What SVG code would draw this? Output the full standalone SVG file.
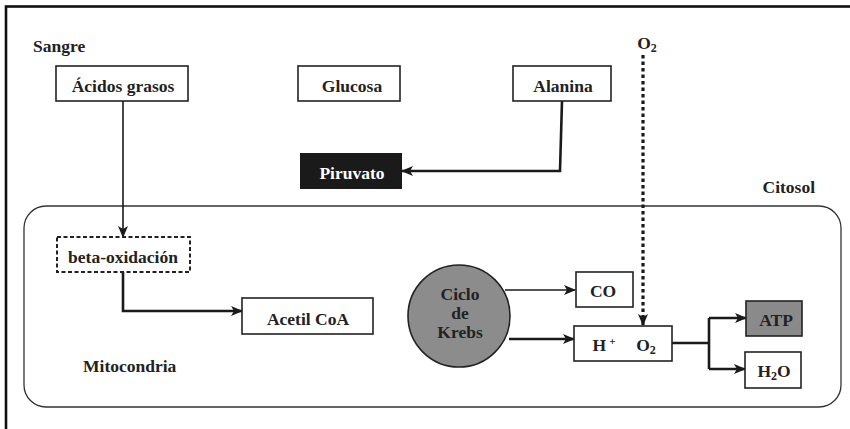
<svg xmlns="http://www.w3.org/2000/svg" width="850" height="429" viewBox="0 0 850 429">
  <defs>
    <marker id="arrow" viewBox="0 0 12 10" refX="11" refY="5" markerWidth="12" markerHeight="10" markerUnits="userSpaceOnUse" orient="auto">
      <path d="M0,0 L12,5 L0,10 L3,5 Z" fill="#1a1a1a"/>
    </marker>
  </defs>
  <style>
    text { font-family: "Liberation Serif", "Times New Roman", serif; font-weight: bold; fill: #222; }
    .lbl { font-size: 17.5px; }
    .node { font-size: 17.5px; text-anchor: middle; }
    .box { fill: #fff; stroke: #222; stroke-width: 1.6; }
    .link { fill: none; stroke: #1a1a1a; stroke-width: 1.6; }
    .thick { stroke-width: 2.6; }
    .dotted { stroke-width: 3.2; stroke-dasharray: 3.5 3; }
  </style>

  <rect width="850" height="429" fill="#fff"/>
  <!-- outer frame (runs past the canvas on right and bottom) -->
  <rect x="6" y="6.5" width="900" height="480" fill="none" stroke="#111" stroke-width="2.6"/>

  <!-- mitochondrion compartment -->
  <rect x="24" y="206" width="817" height="201" rx="22" ry="22" fill="none" stroke="#333" stroke-width="1.3"/>

  <!-- region labels -->
  <text class="lbl" x="33" y="52">Sangre</text>
  <text class="lbl" x="815" y="193" text-anchor="end">Citosol</text>
  <text class="lbl" x="83" y="372">Mitocondria</text>

  <!-- connectors -->
  <g id="connectors">
    <path class="link" d="M123,101 V237" marker-end="url(#arrow)"/>
    <path class="link thick" d="M123,272 V311 H242" marker-end="url(#arrow)"/>
    <path class="link thick" d="M562,101 L560,171 H402" marker-end="url(#arrow)"/>
    <path class="link dotted" d="M643,55 V325" marker-end="url(#arrow)"/>
    <path class="link" d="M505,290 H575" marker-end="url(#arrow)"/>
    <path class="link thick" d="M509,339 H574" marker-end="url(#arrow)"/>
    <path class="link thick" d="M672,343 H709"/>
    <path class="link thick" d="M709,318 V369"/>
    <path class="link thick" d="M709,318 H746" marker-end="url(#arrow)"/>
    <path class="link thick" d="M709,369 H745" marker-end="url(#arrow)"/>
  </g>

  <g id="acidos-grasos">
    <rect class="box" x="56" y="66" width="132" height="35"/>
    <text class="node" x="123" y="92">Ácidos grasos</text>
  </g>
  <g id="glucosa">
    <rect class="box" x="298" y="66" width="102" height="35"/>
    <text class="node" x="352" y="92">Glucosa</text>
  </g>
  <g id="alanina">
    <rect class="box" x="513" y="66" width="98" height="35"/>
    <text class="node" x="563" y="92">Alanina</text>
  </g>
  <g id="o2-source">
    <text class="node" x="647" y="49">O<tspan font-size="12" dy="3">2</tspan></text>
  </g>
  <g id="piruvato">
    <rect x="300" y="153" width="102" height="36" fill="#1a1a1a"/>
    <text class="node" x="352" y="179" style="fill:#fff">Piruvato</text>
  </g>
  <g id="beta-oxidacion">
    <rect x="57" y="237" width="133" height="35" fill="#fff" stroke="#222" stroke-width="2" stroke-dasharray="4,2.5"/>
    <text class="node" x="123" y="263">beta-oxidación</text>
  </g>
  <g id="acetil-coa">
    <rect class="box" x="242" y="298" width="131" height="36"/>
    <text class="node" x="308" y="325">Acetil CoA</text>
  </g>
  <g id="krebs">
    <circle cx="459" cy="316" r="51" fill="#8c8c8c" stroke="#222" stroke-width="1.6"/>
    <text class="node" x="460" y="300">Ciclo</text>
    <text class="node" x="460" y="319">de</text>
    <text class="node" x="460" y="338">Krebs</text>
  </g>
  <g id="co">
    <rect class="box" x="576" y="272" width="57" height="35"/>
    <text class="node" x="603" y="297">CO</text>
  </g>
  <g id="h-o2">
    <rect class="box" x="574" y="326" width="98" height="35"/>
    <text class="node" x="604" y="351">H<tspan font-size="11" dy="-6" dx="3">+</tspan></text>
    <text class="node" x="646" y="351">O<tspan font-size="12" dy="3">2</tspan></text>
  </g>
  <g id="atp">
    <rect x="746" y="301" width="56" height="35" fill="#8a8a8a" stroke="#222" stroke-width="1.6"/>
    <text class="node" x="776" y="326">ATP</text>
  </g>
  <g id="h2o">
    <rect class="box" x="745" y="352" width="56" height="36"/>
    <text class="node" x="774" y="377">H<tspan font-size="12" dy="3">2</tspan><tspan dy="-3">O</tspan></text>
  </g>
</svg>
